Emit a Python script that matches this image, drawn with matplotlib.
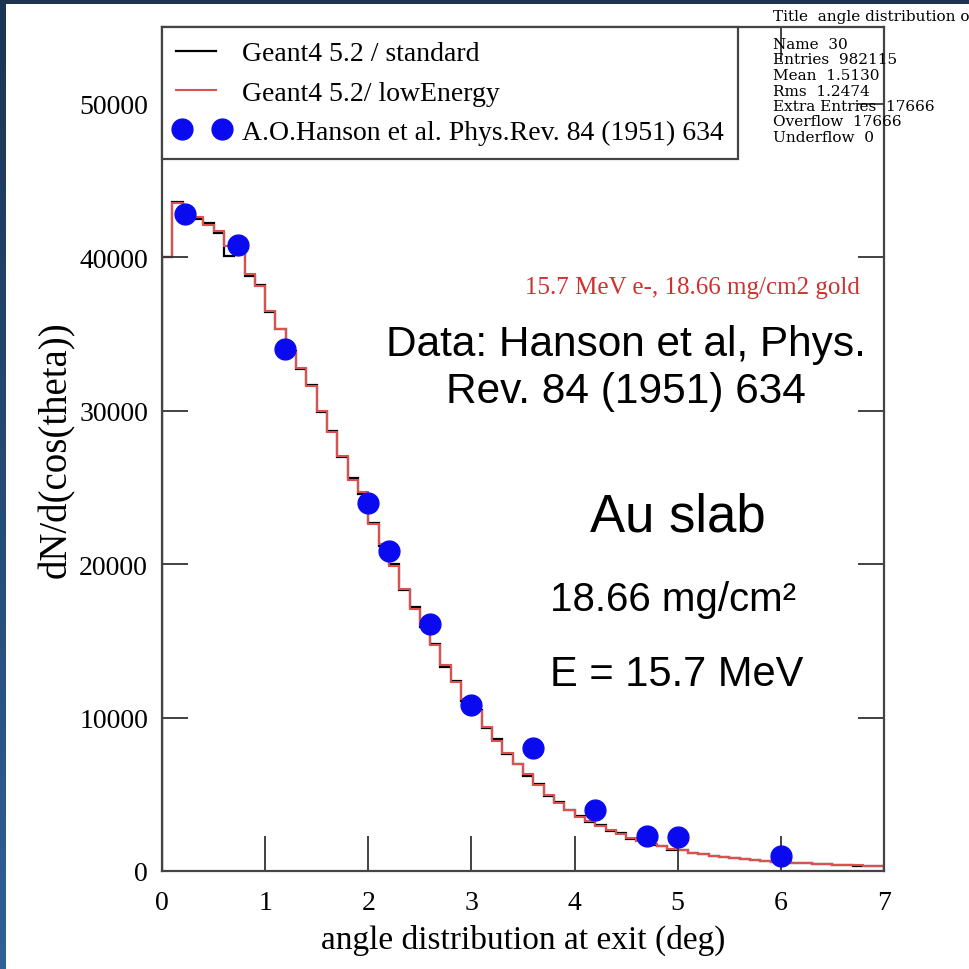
import numpy as np
import matplotlib
matplotlib.use("Agg")
import matplotlib.pyplot as plt
from matplotlib.colors import LinearSegmentedColormap
from matplotlib.legend_handler import HandlerLine2D, HandlerStepPatch
from matplotlib.lines import Line2D
from matplotlib.patches import StepPatch

# histogram bins 0.1 deg wide, 0..7 deg
bin_edges = [round(0.1 * i, 1) for i in range(71)]

# Geant4 5.2 / lowEnergy (red)
low_energy = [40000, 43500, 43100, 42600, 42100, 41700, 40700, 40300, 38900, 38100,
              36500, 35300, 33800, 32800, 31600, 29950, 28600, 27050, 25500, 24700,
              22600, 21300, 19900, 18400, 17100, 16000, 14700, 13400, 12300, 11200,
              10400, 9400, 8500, 7700, 6950, 6300, 5600, 4950, 4450, 4000,
              3550, 3250, 2950, 2650, 2400, 2150, 1950, 1750, 1600, 1450,
              1350, 1200, 1100, 1000, 920, 850, 780, 720, 660, 610,
              570, 530, 490, 460, 430, 400, 380, 360, 340, 320]

# Geant4 5.2 / standard (black)
standard = [40000, 43600, 43000, 42500, 42200, 41600, 40100, 40400, 38800, 38200,
            36400, 35300, 33900, 32700, 31700, 29900, 28700, 27000, 25600, 24600,
            22700, 21200, 20000, 18300, 17200, 15900, 14800, 13300, 12400, 11100,
            10500, 9300, 8600, 7600, 7000, 6200, 5700, 4900, 4500, 3950,
            3600, 3200, 3000, 2600, 2450, 2100, 2000, 1700, 1650, 1400,
            1380, 1180, 1120, 980, 940, 830, 800, 700, 680, 600,
            580, 520, 500, 450, 440, 390, 390, 350, 345, 315]

# A.O.Hanson et al. Phys.Rev. 84 (1951) 634
hanson_angle = [0.22, 0.74, 1.19, 2.0, 2.2, 2.6, 3.0, 3.6, 4.2, 4.7, 5.0, 6.0]
hanson_value = [42800, 40800, 34000, 24000, 20850, 16100, 10800, 8000, 4000, 2300, 2200, 1000]

stats_lines = ["Name  30", "Entries  982115", "Mean  1.5130", "Rms  1.2474",
               "Extra Entries  17666", "Overflow  17666", "Underflow  0"]

W = 970
fig = plt.figure(figsize=(9.7, 9.7), dpi=100)
fig.patch.set_facecolor("white")

def fx(px):
    return px / W

def fy(py):
    return 1 - py / W

serif = ["Liberation Serif", "DejaVu Serif"]
sans = ["Liberation Sans", "DejaVu Sans"]

# dark frame strips (slide background)
strip = fig.add_axes([0, 0, fx(6), 1])
grad = np.linspace(0, 1, 256).reshape(-1, 1)
cmap = LinearSegmentedColormap.from_list("bg", ["#1c3454", "#2e6197"])
strip.imshow(grad, aspect="auto", cmap=cmap)
strip.axis("off")
top = fig.add_axes([0, fy(5), 1, fx(5)])
top.set_facecolor("#1c3352")
top.set_xticks([]); top.set_yticks([])
for s in top.spines.values():
    s.set_visible(False)

ax = fig.add_axes([fx(162), fy(872), fx(884 - 162), (872 - 28) / W])
ax.stairs(standard, bin_edges, color="black", lw=1.6, label="Geant4 5.2 / standard")
ax.stairs(low_energy, bin_edges, color="#dc5050", lw=1.5, label="Geant4 5.2/ lowEnergy")
ax.plot(hanson_angle, hanson_value, "o", color="#0a0af0", ms=15, ls="none",
        label="A.O.Hanson et al. Phys.Rev. 84 (1951) 634")

ax.set_xlim(0, 7)
ax.set_ylim(0, 55000)
ax.set_xticks(range(8))
ax.set_yticks(range(0, 50001, 10000))
ax.tick_params(direction="in", length=25, width=1.3, top=True, right=True,
               labelsize=20, colors="#333333", labelcolor="black")
ax.tick_params(axis="y", length=19, pad=10)
ax.tick_params(axis="x", pad=14)
for lab in ax.get_xticklabels() + ax.get_yticklabels():
    lab.set_family(serif)
for s in ax.spines.values():
    s.set_linewidth(1.6)
    s.set_color("#444444")

ax.set_xlabel("angle distribution at exit (deg)", family=serif, fontsize=24, va="center")
ax.xaxis.set_label_coords(0.5, (872 - 940) / 844)
ax.set_ylabel("dN/d(cos(theta))", family=serif, fontsize=28, va="center")
ax.yaxis.set_label_coords((57 - 162) / 722, (872 - 450) / 844)

hmap = {StepPatch: HandlerStepPatch(xpad=0.22),
        Line2D: HandlerLine2D(marker_pad=0, xpad=0.22)}
leg = ax.legend(loc="upper left", bbox_to_anchor=(0, 1), borderaxespad=0,
                prop={"family": serif, "size": 20}, numpoints=2, handlelength=1.66,
                fancybox=False, framealpha=1, edgecolor="#444444", handler_map=hmap,
                borderpad=0.5, labelspacing=0.5, handletextpad=0.72)
leg.get_frame().set_linewidth(1.6)

# stats box text
fig.text(fx(773), fy(17), "Title  angle distribution o", family=["DejaVu Serif"],
         fontsize=11, va="center", ha="left")
for i, line in enumerate(stats_lines):
    fig.text(fx(773), fy(45 + i * 15.5), line, family=["DejaVu Serif"], fontsize=11,
             va="center", ha="left")

fig.text(fx(692), fy(288), "15.7 MeV e-, 18.66 mg/cm2 gold", family=serif,
         fontsize=18, color="#d03030", ha="center", va="center")
fig.text(fx(626), fy(345), "Data: Hanson et al, Phys.", family=sans,
         fontsize=30.5, ha="center", va="center")
fig.text(fx(626), fy(392), "Rev. 84 (1951) 634", family=sans,
         fontsize=30.5, ha="center", va="center")
fig.text(fx(678), fy(517), "Au slab", family=sans, fontsize=38,
         ha="center", va="center")
fig.text(fx(550), fy(600), "18.66 mg/cm²", family=sans, fontsize=29,
         ha="left", va="center")
fig.text(fx(550), fy(675), "E = 15.7 MeV", family=sans, fontsize=30,
         ha="left", va="center")

fig.savefig("out.png", dpi=100)
